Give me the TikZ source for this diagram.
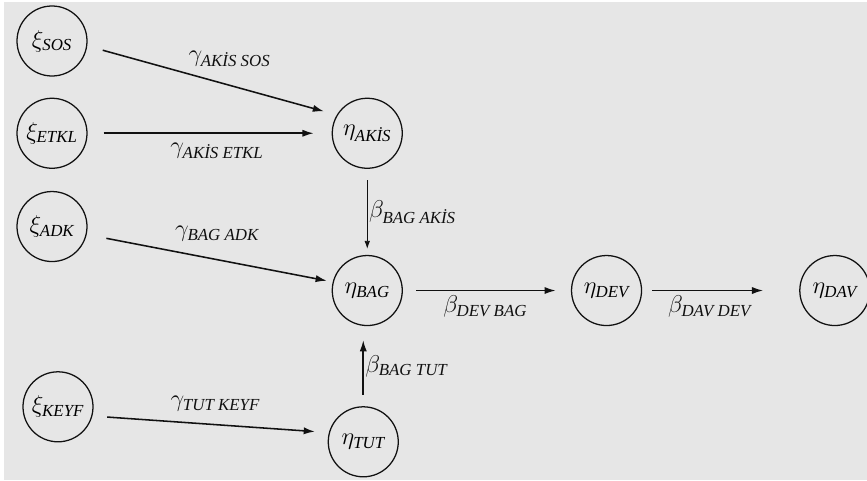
\documentclass[tikz,border=0pt]{standalone}
\usepackage{amsmath}
\usepackage{fontspec}
\setmainfont{Liberation Serif}
\usepackage{xcolor}
\definecolor{mainDark}{HTML}{111111}
\definecolor{bgGray}{HTML}{E6E6E6}
\usepackage{tikz}
\usetikzlibrary{positioning,calc,arrows.meta}
\tikzset{%
  latentVar/.style={%
    circle,
    draw=mainDark,
    line width=0.9pt,
    minimum size=1.75cm,
    inner sep=0pt,
    font=\LARGE
  },
  pathArrow/.style={%
    -{Latex[length=2.8mm,width=1.8mm]},
    line width=1.1pt,
    color=mainDark
  },
  thinArrow/.style={%
    -{Latex[length=2mm,width=1.4mm]},
    line width=0.6pt,
    color=mainDark
  },
  pathLabel/.style={%
    font=\LARGE,
    inner sep=1pt
  }
}

\begin{document}
\begin{tikzpicture}
  % page and grey card
  \fill[white] (0,0) rectangle (21.675,12);
  \fill[bgGray] (0.11,0) rectangle (21.675,11.94);
  \useasboundingbox (0,0) rectangle (21.675,12);

  % exogenous
  \node[latentVar] (sos) at (1.3,10.975) {$\xi_{\textit{SOS}}$};
  \node[latentVar, below=0.525cm of sos] (etkl) {$\xi_{\textit{ETKL}}$};
  \node[latentVar, below=0.55cm of etkl] (adk) {$\xi_{\textit{ADK}}$};
  \node[latentVar, below=2.725cm of adk, xshift=0.15cm] (keyf) {$\xi_{\textit{KEYF}}$};

  % endogenous
  \node[latentVar, right=6.1cm of etkl] (akis) {$\eta_{\textit{AKİS}}$};
  \node[latentVar, below=2.15cm of akis] (bag) {$\eta_{\textit{BAG}}$};
  \node[latentVar, below=2cm of bag, xshift=-0.1cm] (tut) {$\eta_{\textit{TUT}}$};
  \node[latentVar, right=4.2cm of bag] (dev) {$\eta_{\textit{DEV}}$};
  \node[latentVar, right=3.925cm of dev] (dav) {$\eta_{\textit{DAV}}$};

  \draw[pathArrow, shorten <=0.4cm, shorten >=0.33cm] (sos.-8) -- node[pathLabel, above=0.4cm, pos=0.57] {$\gamma_{\textit{AKİS SOS}}$} (akis.149);
  \draw[pathArrow, shorten <=0.4cm, shorten >=0.45cm] (etkl) -- node[pathLabel, below=0.18cm, pos=0.53] {$\gamma_{\textit{AKİS ETKL}}$} (akis);
  \draw[thinArrow, shorten <=0.28cm, shorten >=0.15cm] (akis) -- node[pathLabel, right=0cm] {$\beta_{\textit{BAG AKİS}}$} (bag);
  \draw[pathArrow, shorten <=0.5cm, shorten >=0.15cm] (adk.-13) -- node[pathLabel, above=0.4cm, pos=0.53] {$\gamma_{\textit{BAG ADK}}$} (bag.166);
  \draw[pathArrow, shorten <=0.33cm, shorten >=0.38cm] (bag) -- node[pathLabel, below=0.08cm, pos=0.49] {$\beta_{\textit{DEV BAG}}$} (dev);
  \draw[pathArrow, shorten <=0.25cm, shorten >=0.9cm] (dev) -- node[pathLabel, below=0.08cm, pos=0.43] {$\beta_{\textit{DAV DEV}}$} (dav);
  \draw[pathArrow, shorten <=0.28cm, shorten >=0.35cm] (tut.north) -- node[pathLabel, right=0cm] {$\beta_{\textit{BAG TUT}}$} (tut.north |- bag.south);
  \draw[pathArrow, shorten <=0.37cm, shorten >=0.35cm] (keyf.-15) -- node[pathLabel, above=0.28cm, pos=0.52] {$\gamma_{\textit{TUT KEYF}}$} (tut.165);
\end{tikzpicture}
\end{document}
